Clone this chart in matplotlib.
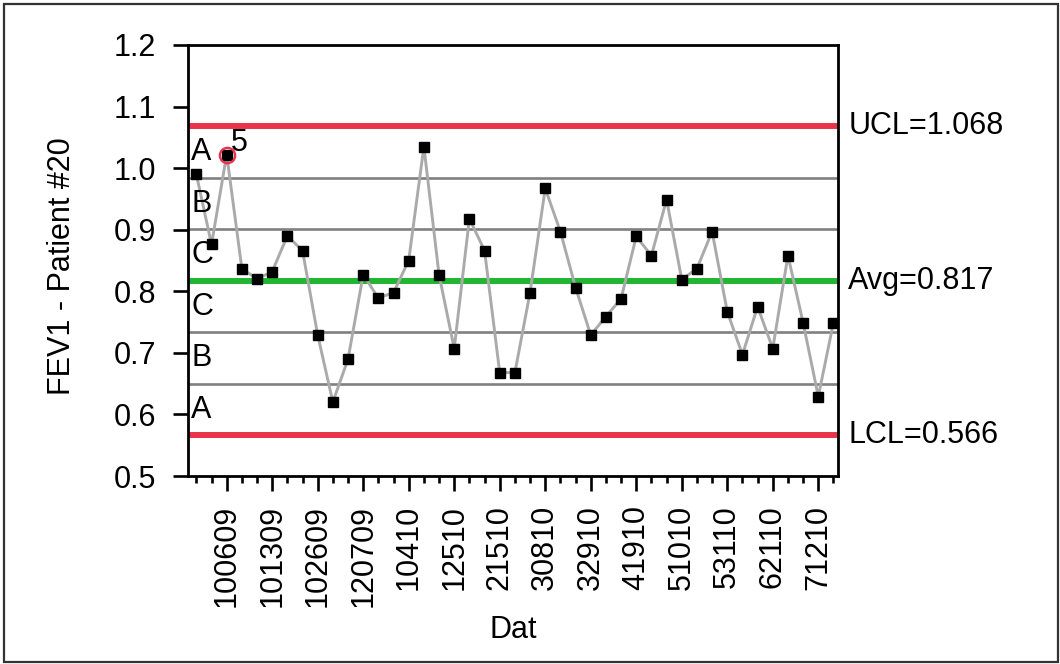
import matplotlib
matplotlib.use("Agg")
import matplotlib.pyplot as plt
from matplotlib.patches import Rectangle
from matplotlib.ticker import FixedLocator, NullFormatter

plt.rcParams['font.family'] = ['Liberation Sans', 'DejaVu Sans']

# FEV1 measurements for patient #20, one per visit
fev1 = [0.99, 0.876, 1.022, 0.837, 0.82, 0.832, 0.89, 0.866, 0.729, 0.62,
        0.69, 0.827, 0.789, 0.798, 0.85, 1.035, 0.827, 0.707, 0.918, 0.866,
        0.668, 0.668, 0.798, 0.967, 0.897, 0.806, 0.729, 0.759, 0.788, 0.889,
        0.858, 0.949, 0.819, 0.837, 0.897, 0.767, 0.697, 0.775, 0.707, 0.858,
        0.749, 0.629, 0.749]

# Date labels shown on every third visit
date_labels = ["100609", "101309", "102609", "120709", "10410", "12510", "21510",
               "30810", "32910", "41910", "51010", "53110", "62110", "71210"]

# Control limits
ucl = 1.068
avg = 0.817
lcl = 0.566

# Flagged point (visit number) and the test that flagged it
flag_visit = 3
flag_test = "5"

RED = "#e8334a"
GREEN = "#21b532"
ZONE_GREY = "#808080"
LINE_GREY = "#aaaaaa"
FS = 22

visits = list(range(1, len(fev1) + 1))

fig = plt.figure(figsize=(10.6, 6.64), dpi=100)
ax = fig.add_axes([188 / 1060, 1 - 476 / 664, 650 / 1060, 431 / 664])

sigma = (ucl - avg) / 3
zone_lines = [avg + sigma, avg + 2 * sigma, avg - sigma, avg - 2 * sigma]
for z in zone_lines:
    ax.axhline(z, color=ZONE_GREY, lw=1.9, zorder=1)
ax.axhline(ucl, color=RED, lw=4.3, zorder=2)
ax.axhline(lcl, color=RED, lw=4.3, zorder=2)
ax.axhline(avg, color=GREEN, lw=4.3, zorder=2)

ax.plot(visits, fev1, color=LINE_GREY, lw=2.1, zorder=3)
ax.plot(visits, fev1, ls="none", marker="s", ms=6.8, color="black", zorder=4)

# Flagged point
fx = flag_visit
fy = fev1[flag_visit - 1]
ax.plot([fx], [fy], ls="none", marker="o", ms=11, mfc="none", mec=RED, mew=1.7, zorder=5)
ax.annotate(flag_test, (fx, fy), xytext=(4, -3), textcoords="offset pixels",
            ha="left", va="bottom", fontsize=FS, zorder=6)

# Zone letters
zone_edges = [ucl, avg + 2 * sigma, avg + sigma, avg, avg - sigma, avg - 2 * sigma, lcl]
zone_names = ["A", "B", "C", "C", "B", "A"]
for name, hi, lo in zip(zone_names, zone_edges[:-1], zone_edges[1:]):
    ax.text(0.005, (hi + lo) / 2, name, transform=ax.get_yaxis_transform(),
            ha="left", va="center", fontsize=FS, zorder=6)

# Limit labels on the right
for text, val in [("UCL=%.3f" % ucl, ucl), ("Avg=%.3f" % avg, avg), ("LCL=%.3f" % lcl, lcl)]:
    ax.text(1.016, val, text, transform=ax.get_yaxis_transform(),
            ha="left", va="center", fontsize=FS, clip_on=False)

ax.set_xlim(0.45, 43.3)
ax.set_ylim(0.5, 1.2)

ax.set_yticks([0.5, 0.6, 0.7, 0.8, 0.9, 1.0, 1.1, 1.2])
ax.set_yticklabels(["0.5", "0.6", "0.7", "0.8", "0.9", "1.0", "1.1", "1.2"])
major_x = visits[2::3]
ax.xaxis.set_major_locator(FixedLocator(major_x))
ax.set_xticklabels(date_labels, rotation=90)
ax.xaxis.set_minor_locator(FixedLocator(visits))
ax.xaxis.set_minor_formatter(NullFormatter())

ax.tick_params(axis="both", which="major", direction="out", length=10.8, width=1.9,
               labelsize=FS, color="black")
ax.tick_params(axis="y", pad=12)
ax.tick_params(axis="x", pad=10)
ax.tick_params(axis="x", which="minor", direction="out", length=5, width=1.9)

for s in ax.spines.values():
    s.set_linewidth(2.0)
    s.set_color("black")

ax.set_ylabel("FEV1 - Patient #20", fontsize=FS)
ax.yaxis.set_label_coords(-0.17, 0.487)
ax.set_xlabel("Dat", fontsize=FS)
ax.xaxis.set_label_coords(0.5, -0.322)

# Outer frame around the whole figure
fig.patches.append(Rectangle((3.5 / 1060, 2.5 / 664), 1054 / 1060, 658 / 664,
                             transform=fig.transFigure, fill=False,
                             edgecolor="#333333", lw=1.6))

fig.savefig("out.png", dpi=100)
